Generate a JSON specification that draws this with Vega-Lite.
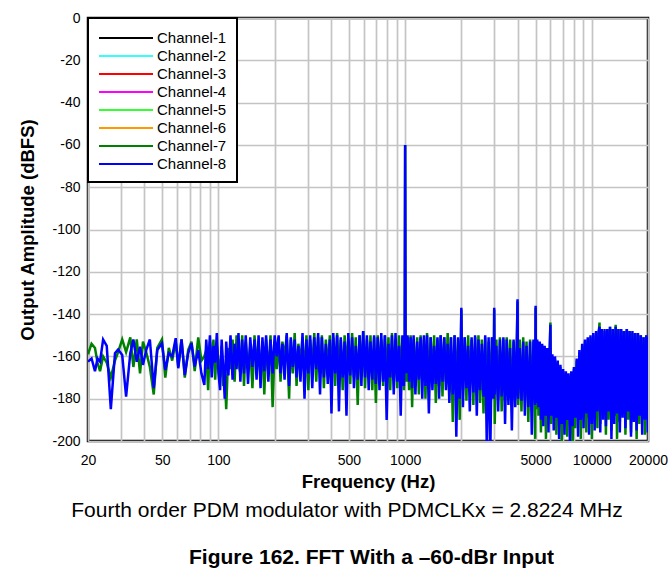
{
"$schema": "https://vega.github.io/schema/vega-lite/v6.json",
"width": 560,
"height": 423,
"autosize": {"type": "none"},
"padding": {"left": 88, "top": 18, "right": 23, "bottom": 140},
"background": "white",
"config": {"view": {"stroke": "black", "strokeWidth": 2.5}, "font": "Liberation Sans"},
"title": {
  "text": "Fourth order PDM modulator with PDMCLKx = 2.8224 MHz",
  "subtitle": "Figure 162. FFT With a –60-dBr Input",
  "orient": "bottom", "anchor": "middle", "dx": -21,
  "font": "Liberation Sans", "fontSize": 21, "fontWeight": "normal", "color": "black",
  "subtitleFont": "Liberation Sans", "subtitleFontSize": 21, "subtitleFontWeight": "bold", "subtitleColor": "black",
  "offset": 9, "subtitlePadding": 26,
  "encode": {"subtitle": {"update": {"dx": {"value": 3.5}}}}
},
"data": {"values": [
{"f":20,"7":-159,"8":-162.5},{"f":20.9,"7":-154,"8":-161},{"f":21.8,"7":-156,"8":-167},{"f":22.5,"7":-163,"8":-161},{"f":23.2,"7":-167,"8":-162.5},{"f":24.1,"7":-160,"8":-152},{"f":25.2,"7":-163,"8":-155},{"f":26.5,"7":-170,"8":-185},{"f":27.9,"7":-162,"8":-158.5},{"f":29,"7":-158,"8":-156.7},{"f":30.5,"7":-152,"8":-159.3},{"f":32,"7":-158,"8":-179},{"f":33.7,"7":-151,"8":-158.5},{"f":35,"7":-165,"8":-152},{"f":36.5,"7":-152,"8":-162.5},{"f":38,"7":-168,"8":-155.4},{"f":39.4,"7":-153,"8":-164},{"f":41,"7":-158,"8":-157},{"f":42.9,"7":-165,"8":-152},{"f":45,"7":-178,"8":-175},{"f":47,"7":-156,"8":-157},{"f":49.8,"7":-152,"8":-153.8},{"f":51.9,"7":-170,"8":-166.4},{"f":54.2,"7":-156,"8":-158.5},{"f":56.5,"7":-162,"8":-160},{"f":59,"7":-153,"8":-151.4},{"f":60.9,"7":-165,"8":-165.6},{"f":63.4,"7":-152,"8":-152},{"f":66,"7":-170,"8":-168.8},{"f":68.8,"7":-157,"8":-158.5},{"f":71.7,"7":-153,"8":-153.8},{"f":74.6,"7":-167,"8":-164.8},{"f":77.9,"7":-151,"8":-157},{"f":81,"7":-162,"8":-168},{"f":84,"7":-160,"8":-173.5},
{"f":86,"7":-157,"8":-152},{"f":88,"7":-176,"8":-166},{"f":90,"7":-153,"8":-150},{"f":92,"7":-165,"8":-170},{"f":94,"7":-152,"8":-155},{"f":96,"7":-171,"8":-163},{"f":98,"7":-155,"8":-149},{"f":100,"7":-162,"8":-168},{"f":102,"7":-170,"8":-176},{"f":104,"7":-155,"8":-152},{"f":106,"7":-174,"8":-165},{"f":108,"7":-168,"8":-180},{"f":110,"7":-185,"8":-153},{"f":113,"7":-156,"8":-169},{"f":116,"7":-166,"8":-150},{"f":119,"7":-152,"8":-171},{"f":122,"7":-172,"8":-154},{"f":125,"7":-150,"8":-166},{"f":128,"7":-163,"8":-149},{"f":131,"7":-168,"8":-172},{"f":134,"7":-150,"8":-152},{"f":137,"7":-174,"8":-168},{"f":140,"7":-153,"8":-150},{"f":144,"7":-166,"8":-173},{"f":148,"7":-155,"8":-151},{"f":152,"7":-175,"8":-165},{"f":156,"7":-150,"8":-152},{"f":160,"7":-165,"8":-171},{"f":164,"7":-153,"8":-150},{"f":168,"7":-170,"8":-175},{"f":172,"7":-155,"8":-151},{"f":176,"7":-178,"8":-167},{"f":180,"7":-152,"8":-150},{"f":185,"7":-168,"8":-172},{"f":190,"7":-150,"8":-152},{"f":195,"7":-184,"8":-168},{"f":200,"7":-155,"8":-150},
{"f":205,"7":-166,"8":-160},{"f":210,"7":-151,"8":-150},{"f":215,"7":-172,"8":-168},{"f":220,"7":-153,"8":-154},{"f":226,"7":-160,"8":-171},{"f":232,"7":-150,"8":-149},{"f":239,"7":-180,"8":-174},{"f":244,"7":-152,"8":-151},{"f":250,"7":-168,"8":-165},{"f":256,"7":-149,"8":-152},{"f":262,"7":-174,"8":-170},{"f":268,"7":-154,"8":-155},{"f":275,"7":-163,"8":-172},{"f":282,"7":-151,"8":-149},{"f":289,"7":-170,"8":-180},{"f":296,"7":-150,"8":-152},{"f":303,"7":-176,"8":-168},{"f":310,"7":-152,"8":-150},{"f":318,"7":-165,"8":-175},{"f":326,"7":-149,"8":-151},{"f":334,"7":-172,"8":-166},{"f":342,"7":-151,"8":-149},{"f":350,"7":-168,"8":-178},{"f":358,"7":-150,"8":-151},{"f":367,"7":-175,"8":-170},{"f":376,"7":-152,"8":-154},{"f":385,"7":-166,"8":-173},{"f":395,"7":-150,"8":-152},{"f":403,"7":-170,"8":-187},{"f":412,"7":-151,"8":-149},{"f":422,"7":-174,"8":-168},{"f":432,"7":-149,"8":-150},{"f":442,"7":-168,"8":-186},{"f":452,"7":-152,"8":-151},{"f":463,"7":-176,"8":-170},{"f":474,"7":-150,"8":-153},{"f":485,"7":-165,"8":-188},{"f":496,"7":-152,"8":-149},{"f":508,"7":-173,"8":-169},{"f":520,"7":-149,"8":-151},{"f":532,"7":-170,"8":-175},{"f":544,"7":-151,"8":-155},{"f":557,"7":-183,"8":-171},{"f":570,"7":-150,"8":-150},{"f":583,"7":-168,"8":-174},{"f":596,"7":-148,"8":-148},{"f":610,"7":-175,"8":-170},{"f":624,"7":-152,"8":-150},{"f":638,"7":-170,"8":-176},{"f":652,"7":-150,"8":-153},{"f":667,"7":-176,"8":-171},{"f":682,"7":-151,"8":-150},{"f":697,"7":-182,"8":-173},{"f":713,"7":-150,"8":-151},{"f":729,"7":-168,"8":-176},{"f":745,"7":-152,"8":-149},{"f":762,"7":-174,"8":-172},{"f":779,"7":-150,"8":-150},{"f":796,"7":-170,"8":-190},{"f":814,"7":-151,"8":-154},{"f":832,"7":-176,"8":-170},{"f":850,"7":-149,"8":-150},{"f":869,"7":-171,"8":-178},{"f":888,"7":-152,"8":-149},{"f":907,"7":-175,"8":-172},{"f":927,"7":-150,"8":-155},{"f":947,"7":-172,"8":-188},{"f":967,"7":-151,"8":-150},{"f":985,"7":-176,"8":-174},{"f":995,"7":-152,"8":-151},{"f":1000,"7":-60,"8":-60},{"f":1005,"7":-153,"8":-152},{"f":1015,"7":-172,"8":-168},
{"f":1030,"7":-151,"8":-150},{"f":1050,"7":-176,"8":-172},{"f":1070,"7":-150,"8":-151},{"f":1090,"7":-184,"8":-175},{"f":1110,"7":-152,"8":-150},{"f":1135,"7":-172,"8":-178},{"f":1160,"7":-151,"8":-153},{"f":1185,"7":-178,"8":-171},{"f":1210,"7":-150,"8":-151},{"f":1235,"7":-171,"8":-180},{"f":1260,"7":-152,"8":-150},{"f":1285,"7":-180,"8":-174},{"f":1310,"7":-149,"8":-150},{"f":1340,"7":-175,"8":-187},{"f":1370,"7":-151,"8":-151},{"f":1400,"7":-173,"8":-176},{"f":1430,"7":-150,"8":-155},{"f":1460,"7":-182,"8":-173},{"f":1490,"7":-152,"8":-151},{"f":1520,"7":-174,"8":-180},{"f":1550,"7":-150,"8":-150},{"f":1585,"7":-179,"8":-172},{"f":1620,"7":-151,"8":-151},{"f":1655,"7":-172,"8":-176},{"f":1690,"7":-149,"8":-154},{"f":1725,"7":-177,"8":-182},{"f":1760,"7":-151,"8":-151},{"f":1800,"7":-191,"8":-178},{"f":1840,"7":-150,"8":-150},{"f":1880,"7":-176,"8":-198},{"f":1920,"7":-152,"8":-151},{"f":1960,"7":-190,"8":-180},{"f":1990,"7":-152,"8":-151},{"f":2000,"7":-138,"8":-137},{"f":2010,"7":-153,"8":-152},{"f":2040,"7":-176,"8":-184},{"f":2085,"7":-151,"8":-151},{"f":2130,"7":-181,"8":-175},{"f":2175,"7":-150,"8":-155},{"f":2220,"7":-174,"8":-186},{"f":2270,"7":-152,"8":-151},{"f":2320,"7":-183,"8":-177},{"f":2370,"7":-151,"8":-150},{"f":2420,"7":-176,"8":-188},{"f":2470,"7":-150,"8":-152},{"f":2520,"7":-182,"8":-176},{"f":2575,"7":-152,"8":-154},{"f":2630,"7":-187,"8":-179},{"f":2685,"7":-151,"8":-150},{"f":2740,"7":-180,"8":-205},{"f":2800,"7":-153,"8":-151},{"f":2860,"7":-178,"8":-204},{"f":2920,"7":-151,"8":-151},{"f":2980,"7":-175,"8":-180},{"f":3000,"7":-138,"8":-137},{"f":3020,"7":-192,"8":-178},{"f":3080,"7":-152,"8":-155},{"f":3150,"7":-180,"8":-186},{"f":3220,"7":-151,"8":-152},{"f":3290,"7":-186,"8":-179},{"f":3360,"7":-152,"8":-151},{"f":3430,"7":-181,"8":-192},{"f":3500,"7":-151,"8":-152},{"f":3575,"7":-178,"8":-183},{"f":3650,"7":-152,"8":-156},{"f":3730,"7":-184,"8":-195},{"f":3810,"7":-153,"8":-152},{"f":3890,"7":-179,"8":-184},{"f":3970,"7":-152,"8":-151},{"f":4000,"7":-134,"8":-133},{"f":4030,"7":-183,"8":-180},{"f":4110,"7":-152,"8":-156},{"f":4200,"7":-186,"8":-181},{"f":4290,"7":-151,"8":-153},{"f":4380,"7":-180,"8":-188},{"f":4470,"7":-153,"8":-155},{"f":4570,"7":-191,"8":-184},{"f":4670,"7":-152,"8":-153},{"f":4770,"7":-182,"8":-197},{"f":4870,"7":-153,"8":-152},{"f":4970,"7":-199,"8":-183},{"f":5000,"7":-137,"8":-136},{"f":5030,"7":-185,"8":-182},
{"f":5100,"7":-153,"8":-152},{"f":5180,"7":-188,"8":-184},{"f":5260,"7":-154,"8":-153},{"f":5340,"7":-196,"8":-190},{"f":5420,"7":-155,"8":-154},{"f":5500,"7":-185,"8":-193},{"f":5590,"7":-156,"8":-155},{"f":5680,"7":-199,"8":-188},{"f":5770,"7":-157,"8":-156},{"f":5860,"7":-190,"8":-196},{"f":5950,"7":-158,"8":-157},{"f":6000,"7":-144,"8":-145},{"f":6050,"7":-192,"8":-188},{"f":6150,"7":-160,"8":-159},{"f":6250,"7":-186,"8":-195},{"f":6350,"7":-161,"8":-160},{"f":6460,"7":-197,"8":-189},{"f":6570,"7":-163,"8":-162},{"f":6680,"7":-189,"8":-199},{"f":6790,"7":-165,"8":-164},{"f":6900,"7":-200,"8":-192},{"f":7020,"7":-167,"8":-166},{"f":7140,"7":-191,"8":-197},{"f":7260,"7":-168,"8":-167},{"f":7380,"7":-198,"8":-190},{"f":7500,"7":-169,"8":-168},{"f":7630,"7":-188,"8":-200},{"f":7760,"7":-168,"8":-167},{"f":7890,"7":-205,"8":-193},{"f":8020,"7":-166,"8":-165},{"f":8160,"7":-194,"8":-189},{"f":8300,"7":-162,"8":-161},{"f":8440,"7":-188,"8":-198},{"f":8580,"7":-158,"8":-157},{"f":8730,"7":-199,"8":-190},{"f":8880,"7":-155,"8":-154},{"f":9030,"7":-186,"8":-194},{"f":9190,"7":-153,"8":-152},{"f":9350,"7":-196,"8":-187},{"f":9510,"7":-152,"8":-151},{"f":9670,"7":-189,"8":-197},{"f":9840,"7":-151,"8":-150},{"f":10010,"7":-199,"8":-192},{"f":10180,"7":-150,"8":-149},{"f":10360,"7":-187,"8":-195},{"f":10540,"7":-149,"8":-148},{"f":10720,"7":-194,"8":-186},{"f":10900,"7":-149,"8":-148},{"f":11000,"7":-144,"8":-146},{"f":11100,"7":-192,"8":-196},{"f":11300,"7":-148,"8":-147},{"f":11500,"7":-186,"8":-190},{"f":11700,"7":-148,"8":-147},{"f":11900,"7":-197,"8":-193},{"f":12100,"7":-147,"8":-147},{"f":12300,"7":-190,"8":-186},{"f":12520,"7":-146,"8":-146},{"f":12740,"7":-195,"8":-199},{"f":12960,"7":-147,"8":-147},{"f":13190,"7":-188,"8":-192},{"f":13420,"7":-145,"8":-146},{"f":13650,"7":-199,"8":-187},{"f":13890,"7":-147,"8":-147},{"f":14130,"7":-191,"8":-196},{"f":14380,"7":-148,"8":-147},{"f":14630,"7":-186,"8":-189},{"f":14880,"7":-148,"8":-148},{"f":15140,"7":-197,"8":-194},{"f":15400,"7":-147,"8":-147},{"f":15670,"7":-190,"8":-186},{"f":15940,"7":-148,"8":-148},{"f":16220,"7":-196,"8":-198},{"f":16500,"7":-149,"8":-148},{"f":16790,"7":-187,"8":-191},{"f":17080,"7":-149,"8":-149},{"f":17380,"7":-199,"8":-195},{"f":17680,"7":-150,"8":-149},{"f":17990,"7":-192,"8":-188},{"f":18300,"7":-150,"8":-150},{"f":18620,"7":-189,"8":-197},{"f":18940,"7":-151,"8":-151},{"f":19270,"7":-197,"8":-190},{"f":19600,"7":-150,"8":-150},{"f":19940,"7":-188,"8":-196},{"f":20000,"7":-150,"8":-151}
]},
"transform": [{"fold": ["7", "8"], "as": ["ch", "v"]}],
"mark": {"type": "line", "strokeWidth": 2.5, "clip": true},
"encoding": {
  "x": {
    "field": "f", "type": "quantitative",
    "scale": {"type": "log", "domain": [20, 20000], "nice": false},
    "axis": {
      "title": "Frequency (Hz)",
      "values": [20,30,40,50,60,70,80,90,100,200,300,400,500,600,700,800,900,1000,2000,3000,4000,5000,6000,7000,8000,9000,10000,20000],
      "labelExpr": "indexof([20,50,100,500,1000,5000,10000,20000], datum.value) >= 0 ? '' + datum.value : ''",
      "grid": true, "gridColor": "#c4c4c4", "gridWidth": 1.7,
      "domain": false, "ticks": false, "tickSize": 0,
      "labelPadding": 12, "labelFontSize": 14, "labelColor": "black", "labelFont": "Liberation Sans",
      "labelFlush": false, "labelOverlap": false, "labelBound": false,
      "titleFont": "Liberation Sans", "titleFontSize": 18.5, "titleFontWeight": "bold", "titleColor": "black", "titlePadding": 5
    }
  },
  "y": {
    "field": "v", "type": "quantitative",
    "scale": {"domain": [-200, 0], "nice": false},
    "axis": {
      "title": "Output Amplitude (dBFS)",
      "values": [-200,-180,-160,-140,-120,-100,-80,-60,-40,-20,0],
      "labelExpr": "'' + datum.value",
      "grid": true, "gridColor": "#c4c4c4", "gridWidth": 1.7,
      "domain": false, "ticks": false, "tickSize": 0,
      "labelPadding": 8, "labelFontSize": 14, "labelColor": "black", "labelFont": "Liberation Sans",
      "labelOverlap": false,
      "titleFont": "Liberation Sans", "titleFontSize": 18.5, "titleFontWeight": "bold", "titleColor": "black", "titlePadding": 14
    }
  },
  "color": {
    "field": "ch", "type": "nominal",
    "scale": {"domain": ["1","2","3","4","5","6","7","8"], "range": ["#000000","#33ffff","#ff0000","#ff00ff","#33ff33","#ff9900","#008000","#0000ff"]},
    "legend": {
      "title": null, "orient": "top-left", "offset": 0, "padding": 10,
      "strokeColor": "black", "fillColor": "white",
      "symbolType": "M-1,0H5", "symbolSize": 324, "symbolStrokeWidth": 2,
      "labelFontSize": 15, "labelFont": "Liberation Sans", "labelColor": "black",
      "labelOffset": 39, "rowPadding": 0,
      "labelExpr": "'Channel-' + datum.label",
      "encode": {"legend": {"update": {"strokeWidth": {"value": 2}}}}
    }
  }
}
}
